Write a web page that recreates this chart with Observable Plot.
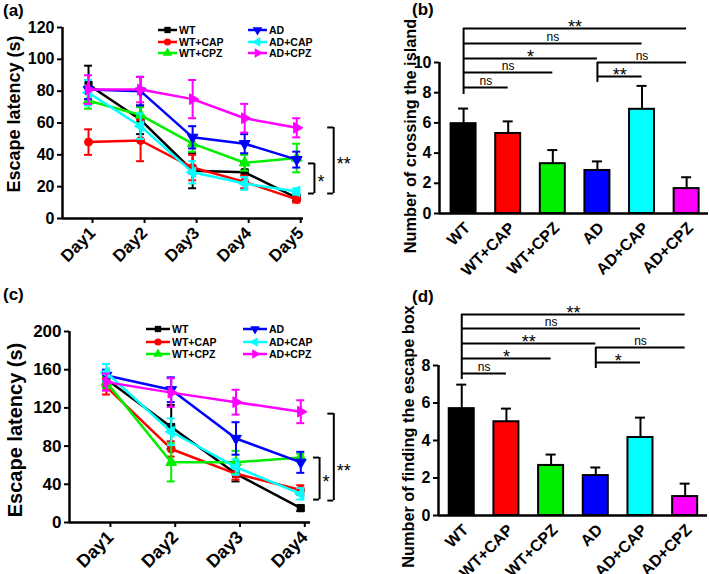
<!DOCTYPE html>
<html><head><meta charset="utf-8">
<script src="https://cdn.jsdelivr.net/npm/d3@7"></script>
<script src="https://cdn.jsdelivr.net/npm/@observablehq/plot@0.6"></script>
<style>
body{margin:0;background:#fff;}
#root{position:relative;width:709px;height:574px;font-family:"Liberation Sans",Arial,sans-serif;overflow:hidden;}
.panel{position:absolute;}
</style></head><body><div id="root"></div>
<script>
// ---------------- data ----------------
const groups = ["WT","WT+CAP","WT+CPZ","AD","AD+CAP","AD+CPZ"];
const groupColors = ["#000000","#ff0000","#00ee00","#0000ff","#00ffff","#ff00ff"];

// (a) escape latency, 5 days
const daysA = [1,2,3,4,5];
const latencyA = [
  [84,62,30,29,13],
  [48,49,32,23,12],
  [74,65,47,35,38],
  [81,80,51,47,37],
  [79,58,29,22,17],
  [81,81,75,63,57]
];
const latencyAErr = [
  [12,9,11,6,2],
  [8,13,8,4,2],
  [5,5,5,5,9],
  [6,9,7,6,5],
  [8,8,7,4,2],
  [9,8,12,9,6]
];
const bracketsA = [
  {x:5.34, y1:15.7, y2:34.6, labelY:25, label:"*"},
  {x:5.71, y1:15.7, y2:57.2, labelY:36.4, label:"**"}
];

// (c) escape latency, 4 days
const daysC = [1,2,3,4];
const latencyC = [
  [150,100,51,15],
  [142,77,51,34],
  [147,63,63,68],
  [154,139,88,63],
  [157,95,58,30],
  [147,136,126,116]
];
const latencyCErr = [
  [8,23,8,3],
  [8,8,6,5],
  [6,20,12,4],
  [6,13,17,11],
  [9,14,8,6],
  [9,15,13,12]
];
const bracketsC = [
  {x:4.29, y1:24, y2:68, labelY:46, label:"*"},
  {x:4.51, y1:23, y2:114, labelY:57.6, label:"**"}
];

// (b) number of crossing the island
const crossings = [5.95,5.3,3.3,2.85,6.9,1.65];
const crossingsErr = [1.0,0.8,0.9,0.6,1.55,0.75];
const compsB = [
  {from:0, to:5, level:12.25, label:"**"},
  {from:0, to:4, level:11.26, label:"ns"},
  {from:0, to:3, level:10.27, label:"*"},
  {from:0, to:2, level:9.34, label:"ns"},
  {from:0, to:1, level:8.35, label:"ns"},
  {from:3, to:5, level:10.0, label:"ns"},
  {from:3, to:4, level:9.07, label:"**"}
];
const stemsB = [{at:0, low:7.88}, {at:3, low:8.68}];

// (d) number of finding the escape box
const findings = [5.7,5.0,2.67,2.13,4.16,1.01];
const findingsErr = [1.28,0.7,0.58,0.43,1.06,0.69];
const compsD = [
  {from:0, to:5, level:10.72, label:"**"},
  {from:0, to:4, level:9.97, label:"ns"},
  {from:0, to:3, level:9.17, label:"**"},
  {from:0, to:2, level:8.37, label:"*"},
  {from:0, to:1, level:7.57, label:"ns"},
  {from:3, to:5, level:8.96, label:"ns"},
  {from:3, to:4, level:8.16, label:"*"}
];
const stemsD = [{at:0, low:7.25}, {at:3, low:7.84}];

// ---------------- helpers ----------------
const FONT = "'Liberation Sans', Arial, sans-serif";
function triangleSymbol(angleDeg) {
  return {
    draw(context, size) {
      const R = Math.sqrt(size / (3 * Math.sqrt(3) / 4));
      for (let k = 0; k < 3; ++k) {
        const a = (angleDeg + 120 * k) * Math.PI / 180;
        const px = R * Math.cos(a), py = R * Math.sin(a);
        k ? context.lineTo(px, py) : context.moveTo(px, py);
      }
      context.closePath();
    }
  };
}
const groupSymbols = ["square","circle",triangleSymbol(-90),triangleSymbol(90),triangleSymbol(180),triangleSymbol(0)];
const d3Symbols = [d3.symbolSquare, d3.symbolCircle, triangleSymbol(-90), triangleSymbol(90), triangleSymbol(180), triangleSymbol(0)];

const root = document.getElementById("root");
function place(node, left, top) {
  node.classList.add("panel");
  node.style.left = left + "px";
  node.style.top = top + "px";
  root.appendChild(node);
}

function linePanel(o) {
  const marks = [
    Plot.ruleX([o.xDomain[0]], {strokeWidth: 2.5}),
    Plot.ruleY([0], {strokeWidth: 2.5}),
    Plot.axisY({ticks: d3.range(0, o.yMax + 1, o.yStep), tickSize: 5, tickPadding: 3, strokeWidth: 2, fontSize: o.tickFont, fontWeight: "bold", label: null}),
    Plot.axisX({ticks: o.days, tickFormat: d => "Day" + d, tickRotate: -45, tickSize: 5, strokeWidth: 2, fontSize: o.dayFont, fontWeight: "bold", label: null, dx: o.xdx, dy: o.xdy}),
    Plot.text([o.ylabel], {frameAnchor: "left", textAnchor: "middle", rotate: -90, dx: o.ldx, dy: o.ldy, fontSize: o.labelFont, fontWeight: "bold"})
  ];
  groups.forEach((g, gi) => {
    const rows = o.days.map((d, di) => ({day: d, value: o.mean[gi][di], err: o.err[gi][di]}));
    const c = groupColors[gi];
    marks.push(
      Plot.line(rows, {x: "day", y: "value", stroke: c, strokeWidth: 2.5}),
      Plot.ruleX(rows, {x: "day", y1: d => d.value - d.err, y2: d => d.value + d.err, stroke: c, strokeWidth: 2}),
      Plot.ruleY(rows, {x1: "day", x2: "day", y: d => d.value + d.err, insetLeft: -4, insetRight: -4, stroke: c, strokeWidth: 2}),
      Plot.ruleY(rows, {x1: "day", x2: "day", y: d => d.value - d.err, insetLeft: -4, insetRight: -4, stroke: c, strokeWidth: 2}),
      Plot.dot(rows, {x: "day", y: "value", symbol: groupSymbols[gi], r: 4, fill: c, stroke: c, strokeWidth: 1})
    );
  });
  marks.push(
    Plot.ruleX(o.brackets, {x: "x", y1: "y1", y2: "y2", strokeWidth: 2}),
    Plot.ruleY(o.brackets, {x1: "x", x2: "x", y: "y1", insetLeft: -6, strokeWidth: 2}),
    Plot.ruleY(o.brackets, {x1: "x", x2: "x", y: "y2", insetLeft: -6, strokeWidth: 2}),
    Plot.text(o.brackets, {x: "x", y: "labelY", text: "label", textAnchor: "start", dx: 3, dy: 4, fontSize: 18, fontWeight: "normal"})
  );
  return Plot.plot({
    width: o.width, height: o.height,
    marginLeft: o.ml, marginRight: o.mr, marginTop: o.mt, marginBottom: o.mb,
    x: {domain: o.xDomain},
    y: {domain: [0, o.yMax]},
    style: {fontFamily: FONT, overflow: "visible", background: "transparent", color: "black"},
    marks
  });
}

function barPanel(o) {
  const rows = groups.map((g, i) => ({i, value: o.mean[i], err: o.err[i], color: groupColors[i]}));
  const top = d3.max(o.comps, d => d.level);
  const marks = [
    Plot.rect(rows, {x1: d => d.i - 0.28, x2: d => d.i + 0.28, y1: 0, y2: "value", fill: "color", stroke: "black", strokeWidth: 2}),
    Plot.ruleX(rows, {x: "i", y1: "value", y2: d => d.value + d.err, strokeWidth: 2}),
    Plot.ruleY(rows, {x1: "i", x2: "i", y: d => d.value + d.err, insetLeft: -5, insetRight: -5, strokeWidth: 2}),
    Plot.ruleX([o.xDomain[0]], {strokeWidth: 2.5}),
    Plot.ruleY([0], {strokeWidth: 2.5}),
    Plot.axisY({ticks: d3.range(0, o.yMax + 1, 2), tickSize: 5, tickPadding: 3, strokeWidth: 2, fontSize: 16, fontWeight: "bold", label: null}),
    Plot.axisX({ticks: d3.range(groups.length), tickFormat: i => groups[i], tickRotate: -45, tickSize: 0, fontSize: 16, fontWeight: "bold", label: null, dx: o.xdx, dy: o.xdy}),
    Plot.text([o.ylabel], {frameAnchor: "left", textAnchor: "middle", rotate: -90, dx: o.ldx, dy: o.ldy, fontSize: 16.3, fontWeight: "bold"}),
    // significance brackets
    Plot.ruleY(o.comps, {x1: "from", x2: "to", y: "level", strokeWidth: 2}),
    Plot.ruleX(o.stems, {x: "at", y1: "low", y2: d => d.at === 0 ? top : d3.max(o.comps.filter(c => c.from === d.at), c => c.level), strokeWidth: 2}),
    Plot.text(o.comps.filter(d => d.label === "ns"), {x: d => (d.from + d.to) / 2, y: "level", text: "label", fontSize: 12, fontWeight: "normal", dy: -6}),
    Plot.text(o.comps.filter(d => d.label !== "ns"), {x: d => (d.from + d.to) / 2, y: "level", text: "label", fontSize: 18, fontWeight: "normal", dy: -1})
  ];
  return Plot.plot({
    width: o.width, height: o.height,
    marginLeft: o.ml, marginRight: o.mr, marginTop: o.mt, marginBottom: o.mb,
    x: {domain: o.xDomain},
    y: {domain: [0, o.yMax]},
    style: {fontFamily: FONT, overflow: "visible", background: "transparent", color: "black"},
    marks
  });
}

// ---------------- panels ----------------
place(linePanel({
  days: daysA, mean: latencyA, err: latencyAErr, brackets: bracketsA,
  yMax: 120, yStep: 20, xDomain: [0.5, 5.13],
  width: 355, height: 285, ml: 62, mr: 52, mt: 27, mb: 67,
  tickFont: 16, dayFont: 17, labelFont: 18, ylabel: "Escape latency (s)", ldx: -48, ldy: -9, xdx: 4, xdy: 0
}), 0, 0);

place(barPanel({
  mean: crossings, err: crossingsErr, comps: compsB, stems: stemsB,
  yMax: 10, xDomain: [-0.54, 5.49],
  width: 354, height: 285, ml: 84, mr: 1, mt: 62, mb: 72,
  ylabel: "Number of crossing the island", ldx: -29, ldy: -2, xdx: 4, xdy: 0
}), 355, 0);

place(linePanel({
  days: daysC, mean: latencyC, err: latencyCErr, brackets: bracketsC,
  yMax: 200, yStep: 40, xDomain: [0.43, 4.15],
  width: 355, height: 289, ml: 69, mr: 45, mt: 46, mb: 52,
  tickFont: 17, dayFont: 18, labelFont: 20, ylabel: "Escape latency (s)", ldx: -54, ldy: 3, xdx: 4, xdy: 0
}), 0, 285);

place(barPanel({
  mean: findings, err: findingsErr, comps: compsD, stems: stemsD,
  yMax: 8, xDomain: [-0.52, 5.5],
  width: 354, height: 289, ml: 83, mr: 2, mt: 80, mb: 59,
  ylabel: "Number of finding the escape box", ldx: -30, ldy: -4, xdx: 4, xdy: 0
}), 355, 285);

// ---------------- overlay: panel tags and legends ----------------
const overlay = d3.create("svg").attr("width", 709).attr("height", 574)
  .style("position", "absolute").style("left", "0px").style("top", "0px")
  .style("font-family", FONT).style("pointer-events", "none");
[["(a)", 3, 16], ["(b)", 412, 15], ["(c)", 3, 300], ["(d)", 412, 302]].forEach(([t, x, y]) =>
  overlay.append("text").attr("x", x).attr("y", y).attr("font-size", 17).attr("font-weight", "bold").text(t));

function legend(cols, rows, len, fontSize) {
  groups.forEach((g, i) => {
    const cx = cols[Math.floor(i / 3)], cy = rows[i % 3];
    overlay.append("line").attr("x1", cx).attr("x2", cx + len).attr("y1", cy).attr("y2", cy)
      .attr("stroke", groupColors[i]).attr("stroke-width", 2.5);
    overlay.append("path").attr("transform", `translate(${cx + len / 2},${cy})`)
      .attr("d", d3.symbol(d3Symbols[i], 40)()).attr("fill", groupColors[i]);
    overlay.append("text").attr("x", cx + len + 2).attr("y", cy).attr("dy", "0.35em")
      .attr("font-size", fontSize).attr("font-weight", "bold").text(g);
  });
}
legend([158, 248], [30, 42, 53], 19, 10.5);
legend([146, 243], [329, 342, 354], 24, 10.5);
root.appendChild(overlay.node());
</script></body></html>
